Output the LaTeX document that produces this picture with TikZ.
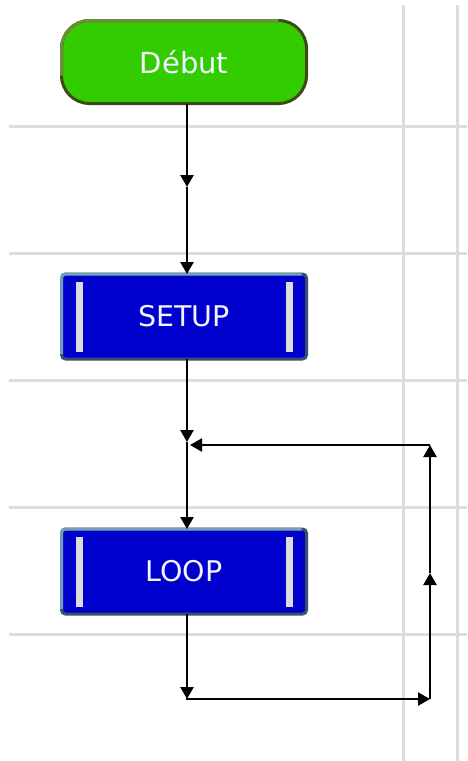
\documentclass[tikz,border=0pt]{standalone}
\usepackage{fontspec}
\setmainfont{DejaVu Sans}
\usetikzlibrary{arrows.meta,calc}
\definecolor{gridc}{HTML}{DCDCDC}
\definecolor{greenfill}{HTML}{33CC00}
\definecolor{greenlight}{HTML}{6E8C3C}
\definecolor{greendark}{HTML}{3C4A14}
\definecolor{bluefill}{HTML}{0000CC}
\definecolor{bluelight}{HTML}{6FA0B8}
\definecolor{bluedark}{HTML}{3B4F6E}
\definecolor{barc}{HTML}{DCDCDC}
\definecolor{txtc}{HTML}{F4F4FF}
\begin{document}
\begin{tikzpicture}[x=1pt,y=-1pt,
  gridline/.style={gridc,line width=3pt},
  startbox/.style={rounded corners=28pt,minimum width=245pt,minimum height=83pt,
     fill=greenfill,draw=greendark,line width=3pt,text=txtc,outer sep=0pt,
     font=\fontsize{29}{32}\selectfont,inner sep=0pt},
  procbox/.style={rounded corners=4pt,minimum width=245pt,minimum height=85pt,
     fill=bluefill,draw=bluedark,line width=3pt,text=txtc,outer sep=0pt,
     font=\fontsize{28.5}{32}\selectfont,inner sep=0pt},
  conn/.style={black,line width=2.3pt},
  arr/.style={-{Triangle[length=12pt,width=13pt]}}]
\useasboundingbox (0,0) rectangle (467,761);
% grid
\foreach \y in {126,253,380,507,634} \draw[gridline] (9,\y) -- (467,\y);
\foreach \x in {403,457} \draw[gridline] (\x,5) -- (\x,761);
% nodes
\node[startbox] (debut) at (184,62) {Début};
\draw[greenlight,line width=3pt,rounded corners=28pt]
  ($(debut.south west)+(0,-28)$) -- (debut.north west) -- ($(debut.north east)+(-28,0)$);
\node[procbox] (setup) at (184,316.5) {SETUP};
\node[procbox] (loop) at (184,571.5) {LOOP};
\foreach \n in {setup,loop}{
  \draw[bluelight,line width=3pt,rounded corners=4pt]
    ($(\n.south west)+(0,-5)$) -- (\n.north west) -- ($(\n.north east)+(-5,0)$);
  \fill[barc] ($(\n.north west)+(14,8)$) rectangle ($(\n.south west)+(21,-7)$);
  \fill[barc] ($(\n.north east)+(-21,8)$) rectangle ($(\n.south east)+(-14,-7)$);
}
% connector coordinates
\coordinate (m1) at (187,187);
\coordinate (m2) at (187,442);
\coordinate (r1) at (187,699);
\coordinate (r2) at (430,699);
\coordinate (r3) at (430,573);
\coordinate (r4) at (430,445);
\coordinate (j) at (190,445);
% connectors
\draw[conn,arr] (debut.south -| m1) -- (m1);
\draw[conn,arr] (m1) -- (setup.north -| m1);
\draw[conn,arr] (setup.south -| m2) -- (m2);
\draw[conn,arr] (m2) -- (loop.north -| m2);
\draw[conn,arr] (loop.south -| r1) -- (r1);
\draw[conn,arr,line cap=rect] (r1) -- (r2);
\draw[conn,arr] (r2) -- (r3);
\draw[conn,arr] (r3) -- (r4);
\draw[conn,arr] (r4) -- (j);
\end{tikzpicture}
\end{document}
